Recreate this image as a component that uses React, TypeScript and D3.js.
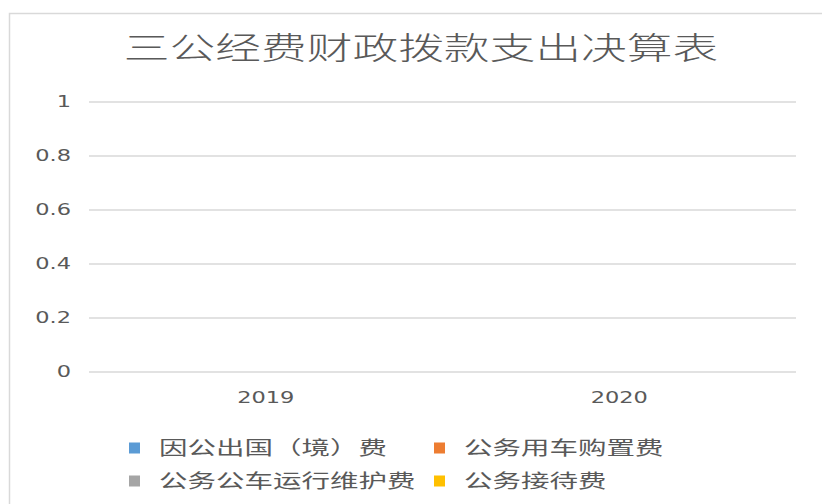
import { useMemo } from 'react';
import * as d3 from 'd3';

const years = ['2019', '2020'];
const seriesNames = ['因公出国（境）费', '公务用车购置费', '公务公车运行维护费', '公务接待费'];
const seriesColors = ['#5B9BD5', '#ED7D31', '#A5A5A5', '#FFC000'];
const overseasValues = [0, 0];
const carPurchaseValues = [0, 0];
const carRunningValues = [0, 0];
const receptionValues = [0, 0];
const yTicks = [0, 0.2, 0.4, 0.6, 0.8, 1];

const W = 822;
const H = 504;
const SX = 1.5; // the reference text is stretched horizontally
const TEXT = '#595959';
const GRID = '#d9d9d9';
const CJK = '"Noto Sans CJK SC", "Noto Sans", sans-serif';
const NUM = '"DejaVu Sans", Verdana, sans-serif';

export default function App() {
  const seriesValues = [overseasValues, carPurchaseValues, carRunningValues, receptionValues];

  const plot = { left: 89, right: 796, top: 102, bottom: 372 };

  const x = useMemo(
    () => d3.scaleBand<string>().domain(years).range([plot.left, plot.right]),
    []
  );
  const inner = useMemo(
    () =>
      d3
        .scaleBand<number>()
        .domain(d3.range(seriesNames.length))
        .range([0, x.bandwidth()])
        .paddingOuter(1.2)
        .paddingInner(0.1),
    [x]
  );
  const y = useMemo(
    () => d3.scaleLinear().domain([0, 1]).range([plot.bottom, plot.top]),
    []
  );

  const legendPos = [
    { x: 129, y: 448 },
    { x: 434, y: 448 },
    { x: 129, y: 481 },
    { x: 434, y: 481 },
  ];

  return (
    <svg
      width={W}
      height={H}
      style={{ position: 'absolute', left: 0, top: 0, background: '#fff' }}
    >
      {/* chart frame */}
      <rect x={9.5} y={13.5} width={W + 20} height={H + 20} fill="#fff" stroke={GRID} strokeWidth={1.5} />

      {/* title */}
      <text
        transform={`translate(${W / 2 + 10},${59}) scale(${SX},1)`}
        textAnchor="middle"
        fontFamily={CJK}
        fontSize={30.5}
        fontWeight={300}
        fill={TEXT}
      >
        三公经费财政拨款支出决算表
      </text>

      {/* grid + y labels */}
      {yTicks.map((t) => (
        <g key={t}>
          <line x1={plot.left} x2={plot.right} y1={y(t)} y2={y(t)} stroke={GRID} strokeWidth={1.5} />
          <text
            transform={`translate(71,${y(t)}) scale(${SX},1)`}
            textAnchor="end"
            dy="0.36em"
            fontFamily={NUM}
            fontSize={15}
            fill={TEXT}
          >
            {t}
          </text>
        </g>
      ))}

      {/* bars (all zero) */}
      {years.map((yr, i) => (
        <g key={yr} transform={`translate(${x(yr)},0)`}>
          {seriesValues.map((vals, s) => (
            <rect
              key={s}
              x={inner(s)}
              y={y(vals[i])}
              width={inner.bandwidth()}
              height={y(0) - y(vals[i])}
              fill={seriesColors[s]}
            />
          ))}
        </g>
      ))}

      {/* x labels */}
      {years.map((yr) => (
        <text
          key={yr}
          transform={`translate(${(x(yr) ?? 0) + x.bandwidth() / 2},${398}) scale(${SX},1)`}
          textAnchor="middle"
          dy="0.36em"
          fontFamily={NUM}
          fontSize={15}
          fill={TEXT}
        >
          {yr}
        </text>
      ))}

      {/* legend */}
      {seriesNames.map((name, s) => (
        <g key={name} transform={`translate(${legendPos[s].x},${legendPos[s].y})`}>
          <rect x={0} y={-5.5} width={11} height={11} fill={seriesColors[s]} />
          <text
            transform={`translate(${30},0) scale(${SX},1)`}
            dy="0.35em"
            fontFamily={CJK}
            fontSize={19}
            fill={TEXT}
          >
            {name}
          </text>
        </g>
      ))}
    </svg>
  );
}
